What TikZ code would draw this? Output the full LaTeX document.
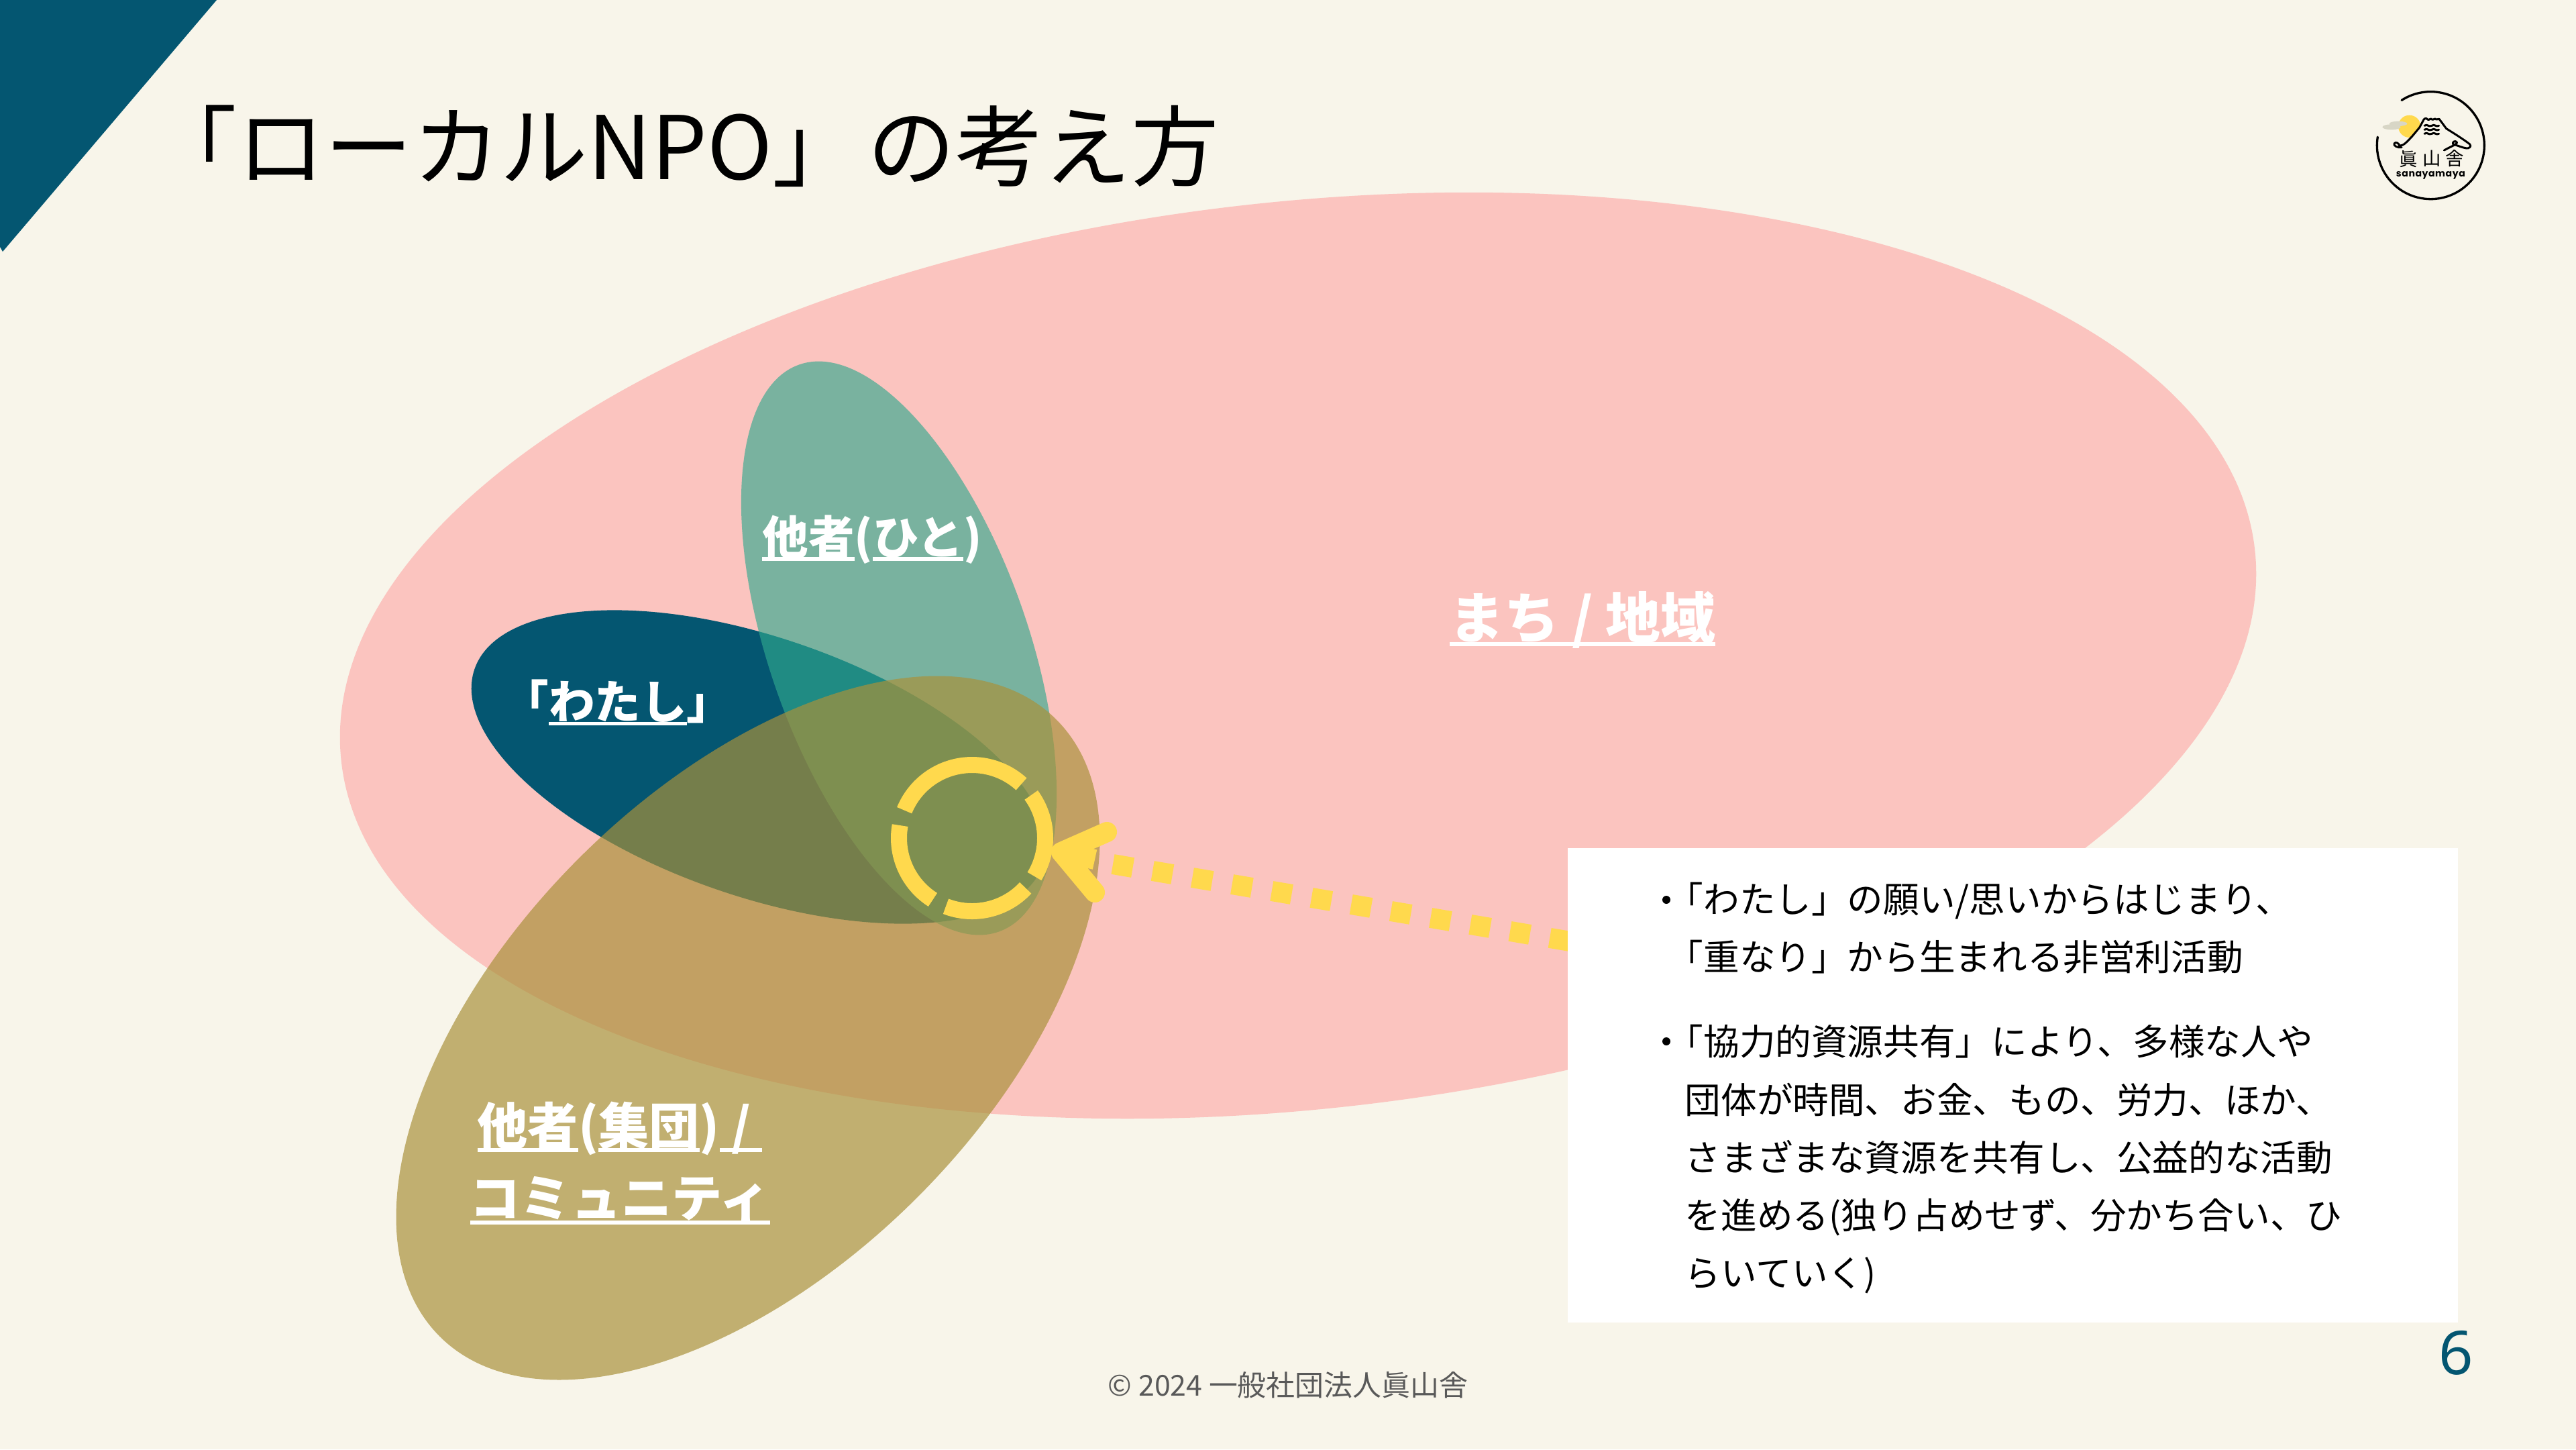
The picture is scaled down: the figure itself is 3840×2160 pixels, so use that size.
\documentclass[tikz,border=0pt]{standalone}
\usepackage{fontspec}
\setmainfont{Noto Sans CJK JP}
\newfontfamily\jpfont{Noto Sans CJK JP}
\newfontfamily\latinfont{Noto Sans}
\newfontfamily\logofont[LetterSpace=4]{Poppins}
\definecolor{pagebg}{HTML}{F8F5EA}
\definecolor{pinkfill}{HTML}{FBC4BF}
\definecolor{darkteal}{HTML}{045671}
\definecolor{greenfill}{HTML}{30A98E}
\definecolor{olivefill}{HTML}{A9913A}
\definecolor{yellowmark}{HTML}{FFD94D}
\definecolor{cloudgrey}{HTML}{D8D6C6}
\definecolor{footgrey}{HTML}{595959}
\newsavebox{\ulbox}
\newcommand{\ulabel}[1]{\sbox{\ulbox}{#1}\rlap{\usebox{\ulbox}}\rule[-0.14em]{\wd\ulbox}{0.08em}}
\tikzset{
  labeltext/.style={text=white,inner sep=0pt,align=center},
  bodyline/.style={anchor=base west,inner sep=0pt,font=\fontsize{15.25}{18}\selectfont,text=black},
  ringarc/.style={draw=yellowmark,line width=24*0.01cm,line cap=butt},
  logoline/.style={draw=black,line width=0.03cm,line cap=round,line join=round},
  logokanji/.style={inner sep=0pt,font=\fontsize{7.8}{8}\selectfont,text=black},
}
\begin{document}
\begin{tikzpicture}[x=0.01cm,y=-0.01cm]
\useasboundingbox (0,0) rectangle (3840,2160);
\fill[pagebg] (0,0) rectangle (3840,2160);
% corner
\fill[darkteal] (0,0) -- (323,0) -- (4,375) -- (0,368) -- cycle;
% ellipses
\fill[pinkfill] (1935,977) ellipse[x radius=1435,y radius=676,rotate=6.3];
\fill[darkteal] (1131,1143) ellipse[x radius=448,y radius=193,rotate=-19];
\fill[greenfill,fill opacity=0.64] (1340,966) ellipse[x radius=193,y radius=448,rotate=19.4];
\fill[olivefill,fill opacity=0.69] (1115,1532) ellipse[x radius=650,y radius=357,rotate=45];
% ring
\node[circle,minimum size=2.42cm,inner sep=0pt] (ring) at (1449,1249) {};
\draw[ringarc] (ring.center) ++(47.6:109 and -109) arc[start angle=47.6,end angle=157.7,radius=109,y radius=-109];
\draw[ringarc] (ring.center) ++(-31.5:109 and -109) arc[start angle=-31.5,end angle=36,radius=109,y radius=-109];
\draw[ringarc] (ring.center) ++(-111:109 and -109) arc[start angle=-111,end angle=-43,radius=109,y radius=-109];
\draw[ringarc] (ring.center) ++(-190:109 and -109) arc[start angle=-190,end angle=-122.5,radius=109,y radius=-109];
% connector
\coordinate (headtip) at (1582,1270);
\coordinate (headup) at (1650,1240);
\coordinate (headdown) at (1632,1330);
\coordinate (stemend) at (1632,1281);
\coordinate (dashstart) at (1659,1288);
\coordinate (dashend) at (2400,1413);
\draw[yellowmark,line width=0.3cm,dash pattern=on 0.3cm off 0.3cm] (dashstart) -- (dashend);
\draw[yellowmark,line width=0.3cm] (headtip) -- (stemend);
\draw[yellowmark,line width=0.3cm,line cap=round,line join=round] (headup) -- (headtip) -- (headdown);
% text box
\node[fill=white,inner sep=0pt,minimum width=13.26cm,minimum height=7.07cm,anchor=north west] (textbox) at (2336,1263) {};
% labels
\node[labeltext,font=\bfseries\fontsize{23.3}{28}\selectfont] (machi) at (2359,924) {\ulabel{まち / 地域}};
\node[labeltext,font=\bfseries\fontsize{19.5}{24}\selectfont] (hito) at (1300,804) {\ulabel{他者}(\ulabel{ひと})};
\node[labeltext,font=\bfseries\fontsize{19.5}{24}\selectfont] (watashi) at (921,1047) {「\ulabel{わたし}」};
\node[labeltext,font=\bfseries\fontsize{21.4}{30.7}\selectfont] (shudan) at (924,1733) {\ulabel{他者}(\ulabel{集団})\ulabel{\ /\ }\\[0pt]\ulabel{コミュニティ}};
% title
\node[anchor=base west,inner sep=0pt,font=\fontsize{37.2}{42}\selectfont] (title) at (222,267) {「ローカルNPO」\hspace{0.12cm}の考え方};
% body text
\node[bodyline] (l1) at (2485,1360) {「わたし」の願い/思いからはじまり、};
\node[bodyline] (l2) at (2485,1446) {「重なり」から生まれる非営利活動};
\node[bodyline] (l3) at (2485,1572) {「協力的資源共有」により、多様な人や};
\node[bodyline] (l4) at (2511,1659) {団体が時間、お金、もの、労力、ほか、};
\node[bodyline] (l5) at (2511,1745) {さまざまな資源を共有し、公益的な活動};
\node[bodyline] (l6) at (2511,1831) {を進める(独り占めせず、分かち合い、ひ};
\node[bodyline] (l7) at (2511,1917) {らいていく)};
\fill (2484,1341) circle[radius=6];
\fill (2484,1552) circle[radius=6];
% footer
\node[inner sep=0pt,text=footgrey,font=\fontsize{12.2}{14}\selectfont] (foot) at (1920,2064) {© 2024 一般社団法人眞山舎};
\node[inner sep=0pt,text=darkteal,font=\latinfont\fontsize{25.6}{30}\selectfont] (pageno) at (3661,2016) {6};
% logo
\begin{scope}[shift={(3480,100)},scale=0.33333]
\fill[yellowmark] (335,265) circle[radius=50];
\fill[cloudgrey] (285,253) ellipse[x radius=40,y radius=11];
\fill[cloudgrey] (255,268) ellipse[x radius=41,y radius=12];
\fill[pagebg] (330,322) -- (385,262) -- (400,235) -- (470,235) -- (420,330) -- cycle;
\draw[logoline] (300,359) .. controls (280,362) and (262,350) .. (267,342) .. controls (272,332) and (290,340) .. (290,352) .. controls (310,352) and (325,332) .. (345,312) -- (380,270) -- (400,233);
\draw[logoline] (400,233) .. controls (408,226) and (414,230) .. (418,235) .. controls (424,238) and (430,226) .. (436,234) .. controls (442,238) and (448,226) .. (455,234) -- (468,232) -- (500,275) .. controls (540,300) and (580,325) .. (605,345) .. controls (615,355) and (600,365) .. (590,363) .. controls (570,360) and (550,350) .. (530,345) .. controls (525,335) and (540,325) .. (548,337) .. controls (545,348) and (525,352) .. (490,372);
\foreach \yy in {262,280,298}{
  \draw[logoline] (402,\yy) .. controls (415,\yy-10) and (420,\yy+8) .. (435,\yy) .. controls (448,\yy-10) and (452,\yy+8) .. (467,\yy);
}
\node[logokanji] (lk1) at (330,412) {眞};
\node[logokanji] (lk2) at (435,408) {山};
\node[logokanji] (lk3) at (538,408) {舎};
\node[inner sep=0pt,font=\logofont\bfseries\fontsize{4}{5}\selectfont] (lktxt) at (430,483) {sanayamaya};
\node[circle,minimum size=1.634cm,inner sep=0pt] (logoc) at (430,350) {};
\draw[black,line width=0.033cm,line cap=round] (logoc.center) ++(171:240 and -240) arc[start angle=171,end angle=482.8,radius=240,y radius=-240];
\end{scope}
\end{tikzpicture}
\end{document}
